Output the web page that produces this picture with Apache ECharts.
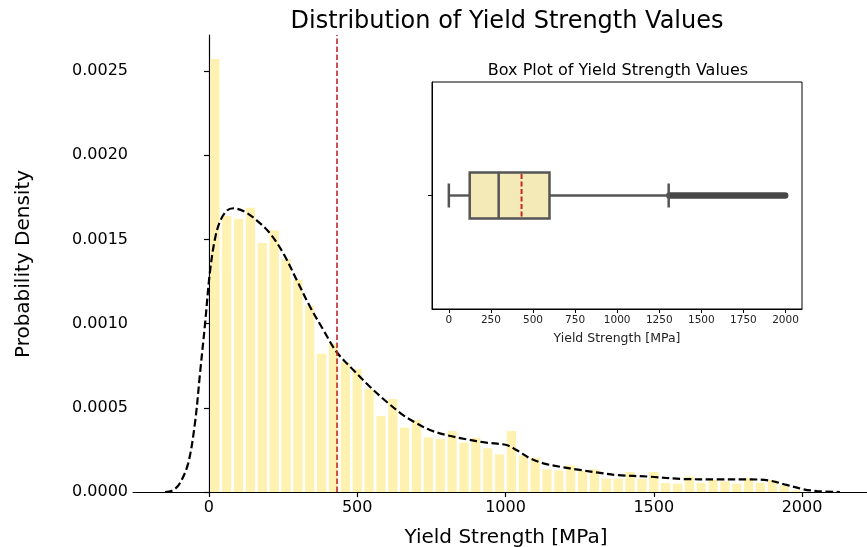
<!DOCTYPE html>
<html><head><meta charset="utf-8">
<script src="https://cdn.jsdelivr.net/npm/echarts@6/dist/echarts.min.js"></script>
<style>html,body{margin:0;padding:0;background:#fff}#c{width:867px;height:547px}</style>
</head><body><div id="c"></div>
<script>
// ---- data ----
const binLefts = [0,40,80,120,160,200,240,280,320,360,400,440,480,520,560,600,640,680,720,760,
  800,840,880,920,960,1000,1040,1080,1120,1160,1200,1240,1280,1320,1360,1400,1440,1480,1520,1560,
  1600,1640,1680,1720,1760,1800,1840,1880,1920,1960];
const binWidth = 40;
const densities = [0.002571,0.001639,0.001621,0.001688,0.001479,0.001554,0.001384,0.001261,0.001106,0.000821,
  0.000880,0.000770,0.000730,0.000611,0.000451,0.000552,0.000382,0.000428,0.000325,0.000315,
  0.000362,0.000293,0.000322,0.000260,0.000224,0.000362,0.000216,0.000202,0.000135,0.000128,
  0.000158,0.000125,0.000135,0.000079,0.000079,0.000119,0.000079,0.000119,0.0000535,0.0000495,
  0.000093,0.0000535,0.0000713,0.0000634,0.0000495,0.0000832,0.0000535,0.0000713,0.000040,0.000010];
const kdeX = [-148,-120,-98,-70,-47,-30,-13,3,20,37,60,82,121,160,206,251,296,341,386,430,487,543,599,655,700,745,801,868,936,1003,1037,1083,1128,1184,1251,1313,1375,1487,1600,1712,1825,1892,1948,2005,2050,2128];
const kdeY = [0,0.000012,0.000052,0.00017,0.00041,0.000705,0.001,0.0013,0.0015,0.001605,0.00167,0.001685,0.001664,0.001615,0.001536,0.001417,0.001259,0.0011,0.000962,0.000833,0.000724,0.000625,0.000536,0.000457,0.000408,0.000368,0.000338,0.000313,0.000293,0.000279,0.000249,0.0002,0.00017,0.00015,0.000131,0.000115,0.000101,0.000091,0.000077,0.000075,0.000075,0.000067,0.000042,0.000016,0.000006,0];
const meanValue = 432;
// box plot: whisker low, Q1, median, Q3, whisker high, mean, outlier band start, outlier band end
const boxStats = [0, 124, 296, 598, 1306, 432, 1310, 1998];
const mainXTicks = [0,500,1000,1500,2000];
const mainYTicks = [0,0.0005,0.0010,0.0015,0.0020,0.0025];
const insetXTicks = [0,250,500,750,1000,1250,1500,1750,2000];

// ---- chart ----
const FONT = 'DejaVu Sans';
const chart = echarts.init(document.getElementById('c'), null, {renderer:'canvas'});
const histData = binLefts.map((l,i)=>[l, l+binWidth, densities[i]]);
const kdeData = kdeX.map((x,i)=>[x, kdeY[i]]);
const plain = v => String(Math.round(v));

chart.setOption({
  animation:false,
  backgroundColor:'#fff',
  grid:[
    {left:133, top:35, width:734, height:457, containLabel:false},
    {left:432, top:82, width:370, height:227, show:true, borderColor:'#000', borderWidth:1, backgroundColor:'#fff'}
  ],
  xAxis:[
    {gridIndex:0, type:'value', min:-256, max:2219,
     axisLine:{show:true, onZero:false, lineStyle:{color:'#000', width:1.2}},
     axisTick:{show:true, length:5, customValues:mainXTicks, lineStyle:{color:'#000', width:1.2}},
     axisLabel:{show:true, customValues:mainXTicks, margin:8, fontSize:16, fontFamily:FONT, color:'#000', formatter:plain},
     splitLine:{show:false}},
    {gridIndex:1, type:'value', min:-100, max:2098,
     axisLine:{show:true, onZero:false, lineStyle:{color:'#000', width:1}},
     axisTick:{show:true, length:4, customValues:insetXTicks, lineStyle:{color:'#000'}},
     axisLabel:{show:true, customValues:insetXTicks, margin:6, fontSize:10.5, fontFamily:FONT, color:'#222', formatter:plain},
     splitLine:{show:false}}
  ],
  yAxis:[
    {gridIndex:0, type:'value', min:0, max:0.002714,
     axisLine:{show:true, lineStyle:{color:'#000', width:1.2}},
     axisTick:{show:true, length:5, customValues:mainYTicks, lineStyle:{color:'#000', width:1.2}},
     axisLabel:{show:true, customValues:mainYTicks, margin:5, fontSize:16, fontFamily:FONT, color:'#000',
       formatter:v=>Number(v).toFixed(4)},
     splitLine:{show:false}},
    {gridIndex:1, type:'value', min:-1, max:1,
     axisLine:{show:true, onZero:false, lineStyle:{color:'#000', width:1}},
     axisTick:{show:true, length:4, customValues:[0], lineStyle:{color:'#000'}},
     axisLabel:{show:false},
     splitLine:{show:false}}
  ],
  series:[
    {type:'custom', xAxisIndex:0, yAxisIndex:0, data:histData, encode:{x:[0,1], y:2}, z:1,
     renderItem:(params, api)=>{
       const p0 = api.coord([api.value(0), api.value(2)]);
       const p1 = api.coord([api.value(1), 0]);
       const gap = 1.3;
       return {type:'rect', shape:{x:p0[0]+gap, y:p0[1], width:p1[0]-p0[0]-2*gap, height:p1[1]-p0[1]},
               style:{fill:'#fff2b0'}};
     }},
    {type:'line', xAxisIndex:0, yAxisIndex:0, data:kdeData, smooth:0.35, symbol:'none', z:3,
     lineStyle:{color:'#000', width:2.2, type:[7.5,3.5]},
     markLine:{silent:true, symbol:['none','none'], label:{show:false}, animation:false,
       lineStyle:{color:'#c0282a', width:1.6, type:[5.5,2.5]},
       data:[{xAxis:meanValue}]}},
    {type:'custom', xAxisIndex:1, yAxisIndex:1, data:[boxStats], encode:{x:[0,1,2,3,4,5,6,7]}, z:5,
     renderItem:(params, api)=>{
       const X = i => api.coord([api.value(i), 0])[0];
       const y = api.coord([0,0])[1];
       const bh = 23, ch = 12;
       const grey = '#555555';
       return {type:'group', children:[
         {type:'line', shape:{x1:X(6), y1:y, x2:X(7), y2:y}, style:{stroke:'#474747', lineWidth:6.5, lineCap:'round'}},
         {type:'line', shape:{x1:X(0), y1:y, x2:X(1), y2:y}, style:{stroke:grey, lineWidth:2.4}},
         {type:'line', shape:{x1:X(3), y1:y, x2:X(4), y2:y}, style:{stroke:grey, lineWidth:2.4}},
         {type:'line', shape:{x1:X(0), y1:y-ch, x2:X(0), y2:y+ch}, style:{stroke:grey, lineWidth:2.5}},
         {type:'line', shape:{x1:X(4), y1:y-ch, x2:X(4), y2:y+ch}, style:{stroke:grey, lineWidth:2.5}},
         {type:'rect', shape:{x:X(1), y:y-bh, width:X(3)-X(1), height:2*bh}, style:{fill:'#f3eab8', stroke:grey, lineWidth:2.5}},
         {type:'line', shape:{x1:X(2), y1:y-bh, x2:X(2), y2:y+bh}, style:{stroke:grey, lineWidth:2.5}},
         {type:'line', shape:{x1:X(5), y1:y-bh+1.5, x2:X(5), y2:y+bh-1.5}, style:{stroke:'#c0282a', lineWidth:2, lineDash:[5,2.5]}}
       ]};
     }}
  ],
  graphic:[
    {type:'text', x:507, y:22, style:{text:'Distribution of Yield Strength Values', font:'24px "DejaVu Sans"', fill:'#000', textAlign:'center', textVerticalAlign:'middle'}},
    {type:'text', x:506, y:538, style:{text:'Yield Strength [MPa]', font:'20px "DejaVu Sans"', fill:'#000', textAlign:'center', textVerticalAlign:'middle'}},
    {type:'text', x:24, y:264, rotation:Math.PI/2, style:{text:'Probability Density', font:'20px "DejaVu Sans"', fill:'#000', textAlign:'center', textVerticalAlign:'middle'}},
    {type:'text', x:618, y:71, style:{text:'Box Plot of Yield Strength Values', font:'16px "DejaVu Sans"', fill:'#000', textAlign:'center', textVerticalAlign:'middle'}},
    {type:'text', x:617, y:339, style:{text:'Yield Strength [MPa]', font:'12.5px "DejaVu Sans"', fill:'#222', textAlign:'center', textVerticalAlign:'middle'}}
  ]
});
</script></body></html>
